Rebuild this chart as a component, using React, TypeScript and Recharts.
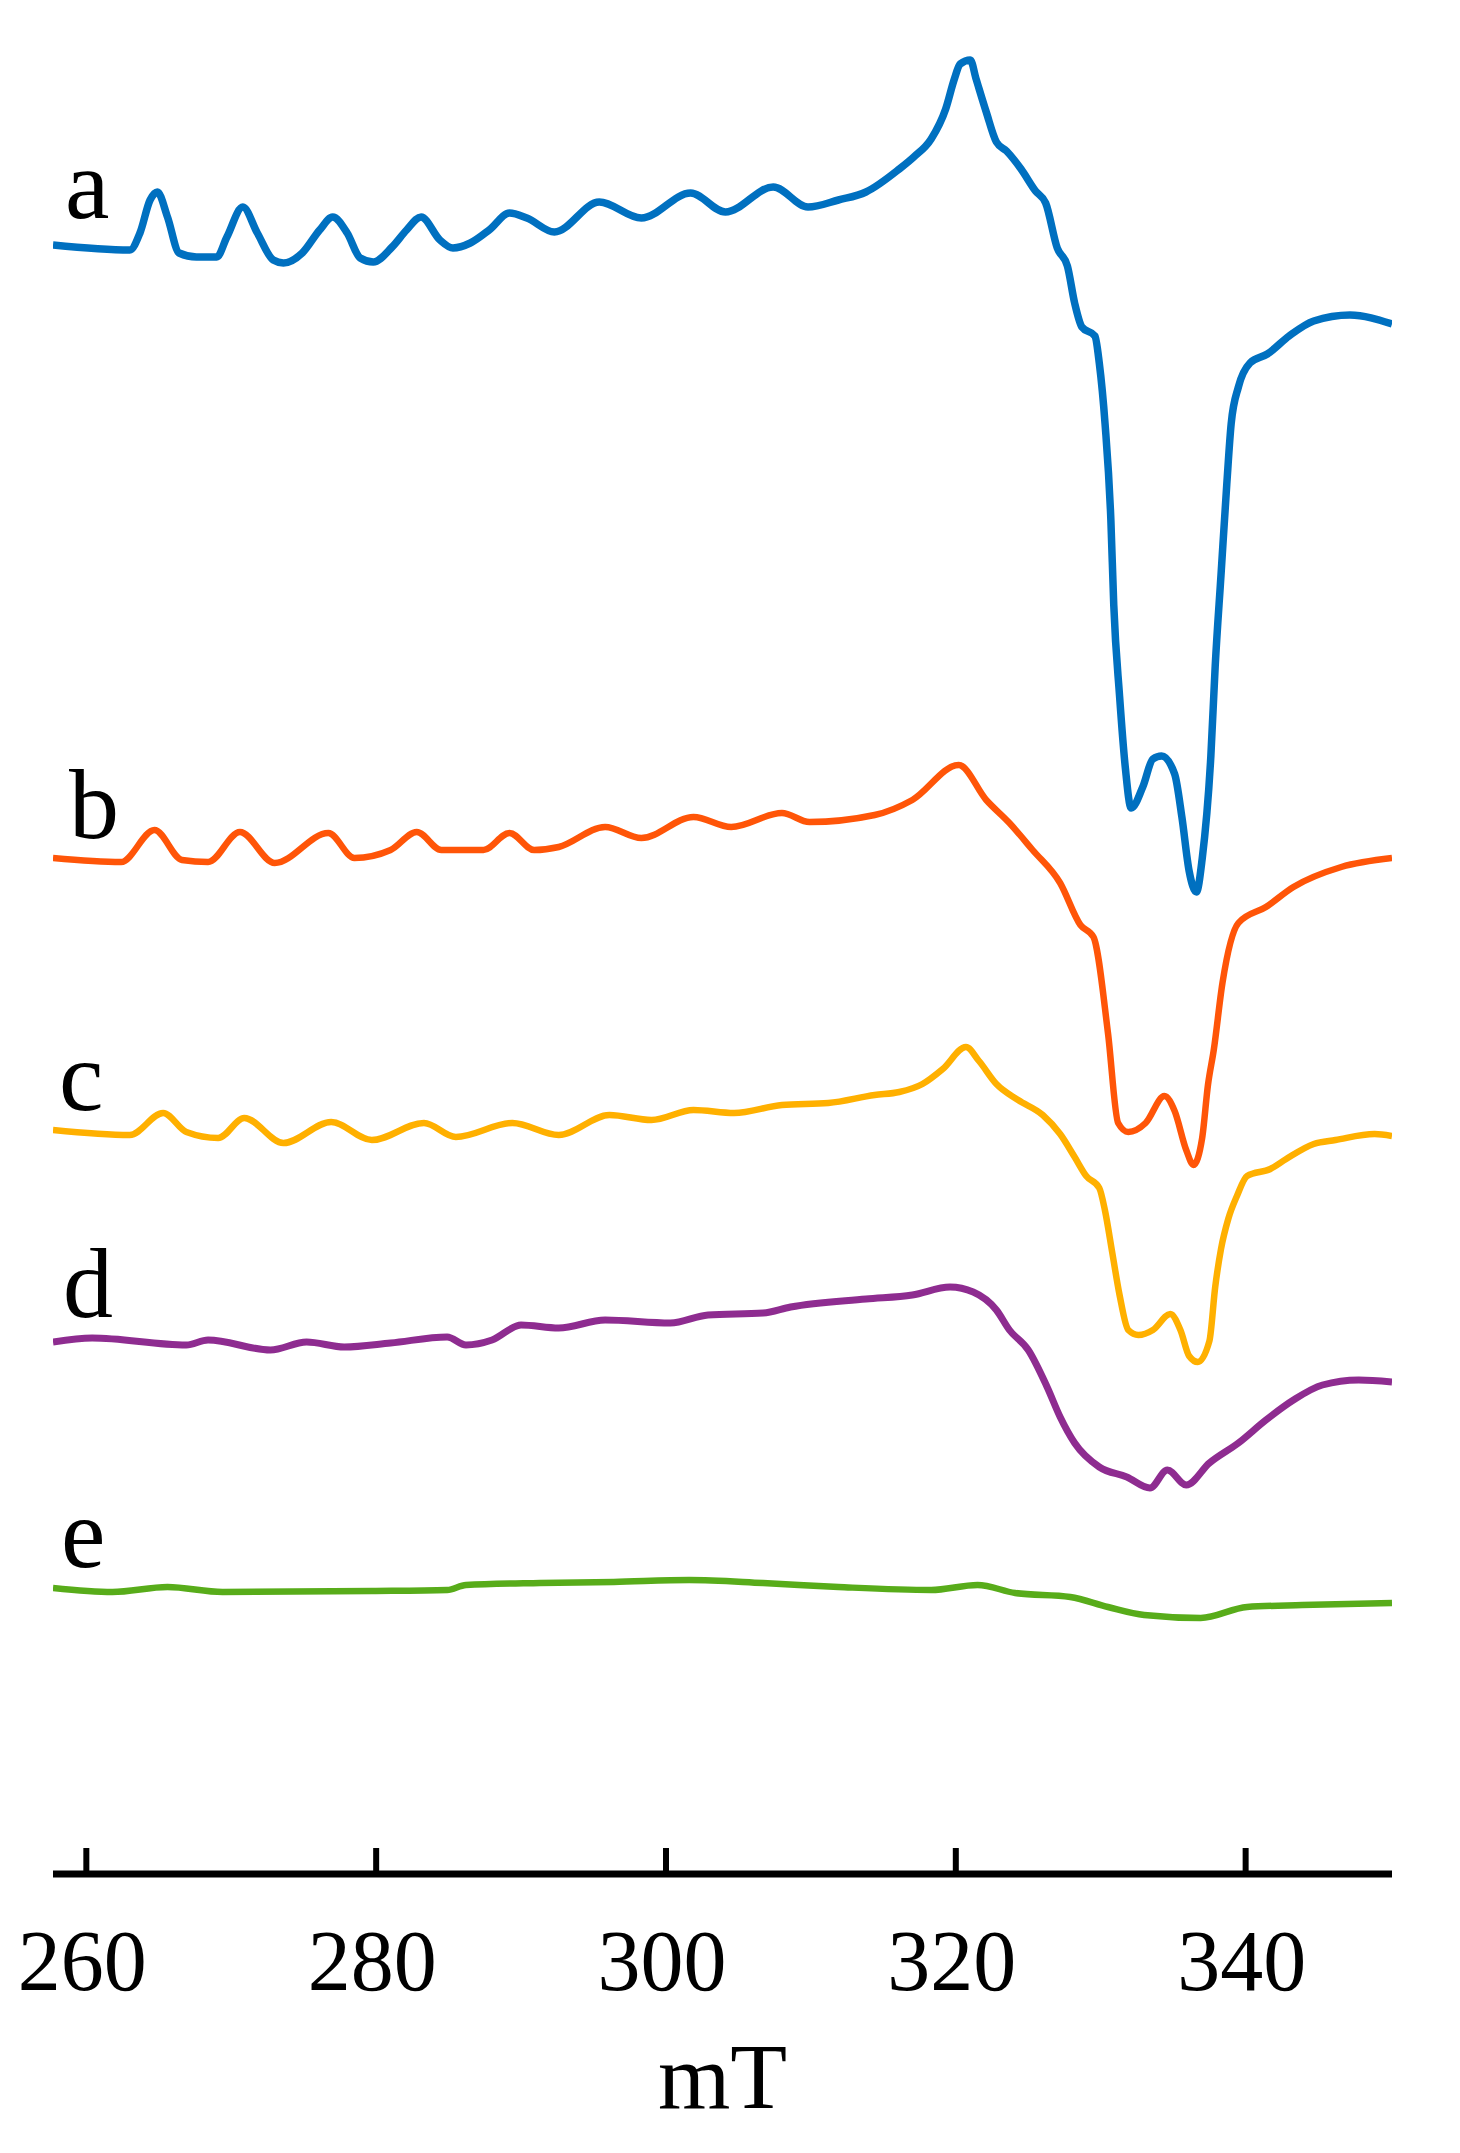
import React from "react";
import { LineChart, Line, XAxis, YAxis } from "recharts";

// EPR spectra a–e, magnetic field in mT, signal in arbitrary units (stacked)
const fieldA = [257.7, 263.0, 263.7, 264.4, 264.9, 265.6, 266.4, 267.6, 269.0, 269.7, 270.8, 271.8, 272.9, 273.6, 274.9, 276.1, 277.0, 278.0, 278.9, 279.8, 281.1, 282.1, 283.1, 284.4, 285.3, 286.5, 287.8, 289.2, 290.4, 292.3, 295.4, 298.3, 301.7, 304.1, 307.4, 309.8, 311.9, 313.8, 316.1, 317.1, 318.3, 319.3, 319.9, 320.3, 321.0, 321.4, 322.1, 322.8, 323.5, 324.5, 325.5, 326.2, 327.0, 327.7, 328.2, 328.7, 329.6, 329.9, 330.3, 330.7, 330.9, 331.3, 331.7, 332.1, 332.9, 333.6, 334.2, 335.1, 335.6, 336.1, 336.6, 337.0, 337.6, 337.9, 338.3, 338.7, 339.0, 339.5, 340.3, 341.5, 343.0, 344.7, 347.2, 350.1];
const signalA = [2, -3, 14, 47, 55, 30, -6, -10, -10, 10, 40, 14, -13, -16, -6, 17, 30, 14, -11, -15, 0, 17, 30, 7, -1, 4, 17, 34, 29, 15, 45, 29, 54, 35, 60, 40, 47, 55, 78, 90, 108, 138, 168, 183, 187, 168, 135, 105, 96, 78, 56, 44, -1, -19, -56, -80, -89, -116, -177, -273, -358, -449, -521, -561, -540, -512, -509, -527, -570, -624, -645, -612, -509, -419, -328, -237, -177, -140, -116, -107, -89, -74, -68, -77];

const fieldB = [257.7, 262.4, 264.7, 266.6, 268.4, 270.6, 273.0, 276.7, 278.5, 281.0, 282.8, 284.5, 287.4, 289.2, 290.9, 292.6, 295.8, 298.3, 301.9, 304.5, 308.0, 309.9, 314.4, 317.0, 320.2, 322.1, 323.7, 325.3, 327.2, 328.6, 329.5, 330.5, 331.2, 331.9, 333.1, 334.4, 335.1, 335.9, 336.4, 337.0, 337.4, 337.8, 338.4, 339.5, 341.4, 343.3, 346.6, 350.1];
const signalB = [0, -4, 28, -2, -4, 26, -5, 25, 0, 8, 26, 8, 8, 25, 8, 11, 31, 20, 41, 31, 45, 36, 43, 58, 93, 58, 35, 8, -25, -67, -79, -175, -265, -274, -265, -238, -253, -292, -307, -280, -227, -192, -125, -65, -49, -29, -9, 0];

const fieldC = [257.7, 263.0, 265.3, 266.9, 269.1, 270.9, 273.6, 276.9, 279.7, 283.3, 285.5, 289.4, 292.6, 296.1, 299.0, 301.9, 304.7, 308.0, 311.2, 314.4, 316.1, 317.7, 319.1, 320.7, 321.6, 322.8, 324.3, 326.0, 327.2, 328.2, 329.0, 329.9, 330.3, 330.8, 331.3, 331.9, 332.6, 333.6, 334.8, 335.5, 336.1, 336.7, 337.5, 337.9, 338.3, 338.8, 339.4, 340.1, 341.7, 342.8, 344.7, 346.2, 348.9, 350.1];
const signalC = [0, -5, 17, -2, -8, 12, -13, 8, -10, 7, -7, 7, -5, 15, 10, 20, 17, 25, 27, 35, 38, 46, 61, 83, 69, 46, 30, 15, -4, -27, -46, -58, -81, -123, -165, -200, -205, -200, -184, -200, -226, -232, -211, -157, -119, -89, -66, -46, -39, -29, -14, -10, -4, -6];

const fieldD = [257.7, 260.4, 266.9, 268.4, 272.7, 275.2, 277.8, 281.0, 284.9, 286.2, 288.0, 290.0, 292.6, 295.8, 300.3, 302.9, 306.7, 308.6, 313.8, 317.0, 319.6, 321.2, 322.8, 323.7, 325.0, 326.3, 327.2, 328.2, 329.9, 331.8, 333.4, 334.6, 335.9, 337.5, 339.5, 341.4, 343.3, 345.3, 347.8, 350.1];
const signalD = [0, 4, -3, 2, -8, 0, -5, -1, 5, -3, 2, 17, 14, 22, 19, 27, 29, 35, 43, 47, 55, 50, 32, 12, -8, -45, -75, -101, -125, -135, -146, -128, -143, -121, -101, -78, -58, -43, -38, -40];

const fieldE = [257.7, 261.8, 265.6, 269.4, 279.7, 284.9, 286.2, 291.3, 296.4, 301.6, 306.7, 311.9, 318.3, 321.5, 324.1, 327.9, 330.5, 333.0, 336.9, 340.1, 343.9, 350.1];
const signalE = [0, -4, 1, -4, -3, -2, 3, 5, 6, 8, 5, 1, -2, 3, -5, -9, -19, -27, -30, -19, -17, -15];

const traceLabels = ["a", "b", "c", "d", "e"];
const traceOffsets = [1627, 1016, 744, 532, 286];
const fieldTicks = [260, 280, 300, 320, 340];

const COLORS = ["#0070C0", "#FF5508", "#FFB000", "#8E2C90", "#58AC1A"];
const WIDTHS = [7.5, 6.5, 6.5, 7, 6.5];
const SERIF = "'Liberation Serif', 'Times New Roman', serif";

const fields = [fieldA, fieldB, fieldC, fieldD, fieldE];
const signals = [signalA, signalB, signalC, signalD, signalE];

const traces = fields.map((f, k) =>
  f.map((x, i) => ({ field: x, value: signals[k][i] + traceOffsets[k] }))
);

// where the a–e letters sit (page px)
const letterPos = [
  { x: 65, y: 218 },
  { x: 69, y: 838 },
  { x: 59, y: 1110 },
  { x: 63, y: 1317 },
  { x: 61, y: 1567 },
];

const renderTick = (props: any) => {
  const { x, y, payload } = props;
  return (
    <text x={x - 4} y={y + 142} textAnchor="middle" fontSize={86} fontFamily={SERIF} fill="#000">
      {payload.value}
    </text>
  );
};

export default function App() {
  return (
    <div style={{ position: "absolute", left: 0, top: 0, width: 1460, height: 2153, background: "#fff" }}>
      <LineChart width={1460} height={2153} margin={{ top: 0, right: 68, left: 53, bottom: 0 }}>
        <XAxis
          dataKey="field"
          type="number"
          domain={[257.7, 350.1]}
          ticks={fieldTicks}
          allowDataOverflow
          height={279}
          tickSize={-26}
          tickMargin={0}
          axisLine={{ stroke: "#000", strokeWidth: 7 }}
          tickLine={{ stroke: "#000", strokeWidth: 6 }}
          tick={renderTick}
          label={{ value: "mT", position: "insideBottom", offset: 45, fontSize: 93, fontFamily: SERIF, fill: "#000" }}
        />
        <YAxis hide width={0} type="number" domain={[0, 1874]} allowDataOverflow />
        {traces.map((d, k) => (
          <Line
            key={traceLabels[k]}
            data={d}
            dataKey="value"
            type="monotone"
            stroke={COLORS[k]}
            strokeWidth={WIDTHS[k]}
            strokeLinejoin="round"
            dot={false}
            activeDot={false}
            isAnimationActive={false}
          />
        ))}
      </LineChart>
      <svg width={1460} height={2153} style={{ position: "absolute", left: 0, top: 0, pointerEvents: "none" }}>
        {traceLabels.map((t, k) => (
          <text key={t} x={letterPos[k].x} y={letterPos[k].y} fontSize={100} fontFamily={SERIF} fill="#000">
            {t}
          </text>
        ))}
      </svg>
    </div>
  );
}
